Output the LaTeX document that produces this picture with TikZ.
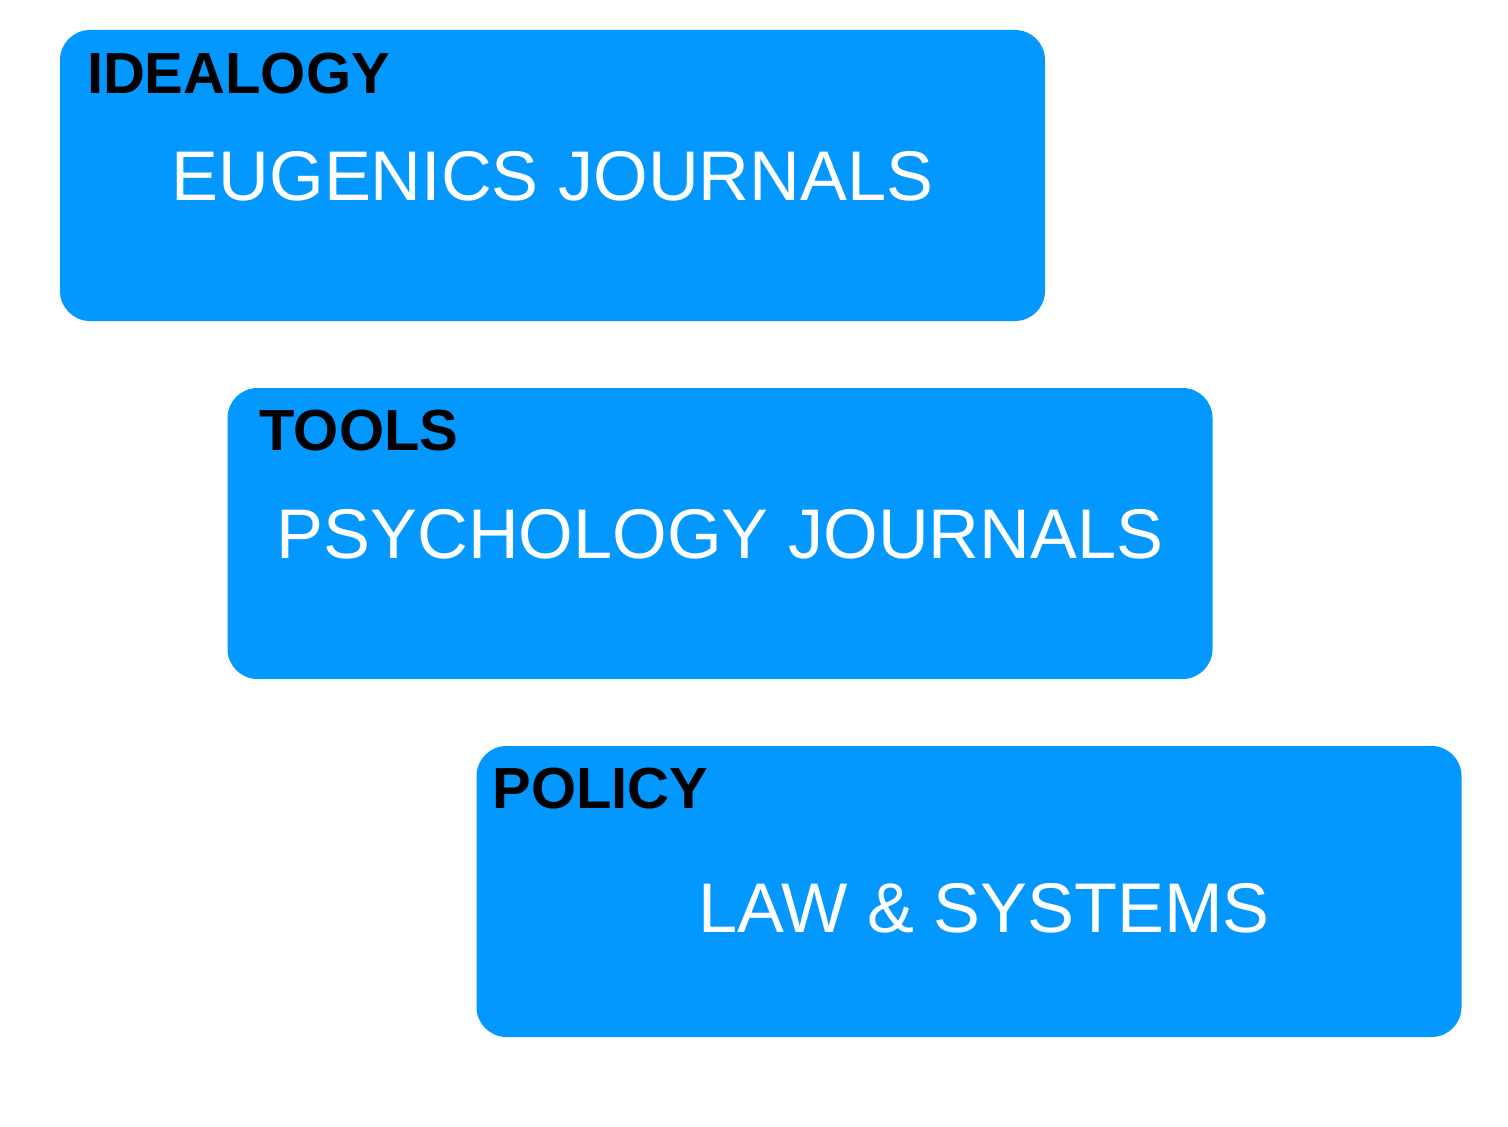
\documentclass[tikz,border=0pt]{standalone}
\usepackage{fontspec}
\setmainfont{Liberation Sans}
\usepackage{xcolor}
\usetikzlibrary{positioning,calc}
\definecolor{panelblue}{HTML}{0398FF}

\begin{document}
\begin{tikzpicture}[
panel/.style={fill=panelblue, rounded corners=0.3cm, minimum width=9.85cm, minimum height=2.91cm, inner sep=0pt},
tag/.style={anchor=base west, inner sep=0pt, font=\fontsize{16.5}{18}\selectfont\bfseries, text=black},
title/.style={anchor=base, inner sep=0pt, font=\fontsize{20}{24}\selectfont, text=white}
]
\useasboundingbox (0,0) rectangle (15.08,-11.26);
\node[panel] (ideabox) at (5.525,-1.755) {};
\node[panel] (toolbox) at (7.2,-5.335) {};
\node[panel] (policybox) at (9.69,-8.915) {};
% headings
\node[tag] (idealogy) at ($(ideabox.north west)+(0.27,-0.64)$) {IDEALOGY};
\node[tag] (tools) at ($(toolbox.north west)+(0.32,-0.63)$) {TOOLS};
\node[tag] (policy) at ($(policybox.north west)+(0.16,-0.63)$) {POLICY};
% contents
\node[title] (eugenics) at ($(ideabox.north)+(0,-1.71)$) {EUGENICS JOURNALS};
\node[title] (psychology) at ($(toolbox.north)+(0,-1.71)$) {PSYCHOLOGY JOURNALS};
\node[title] (law) at ($(policybox.north)+(0.15,-1.87)$) {LAW \& SYSTEMS};
\end{tikzpicture}
\end{document}
